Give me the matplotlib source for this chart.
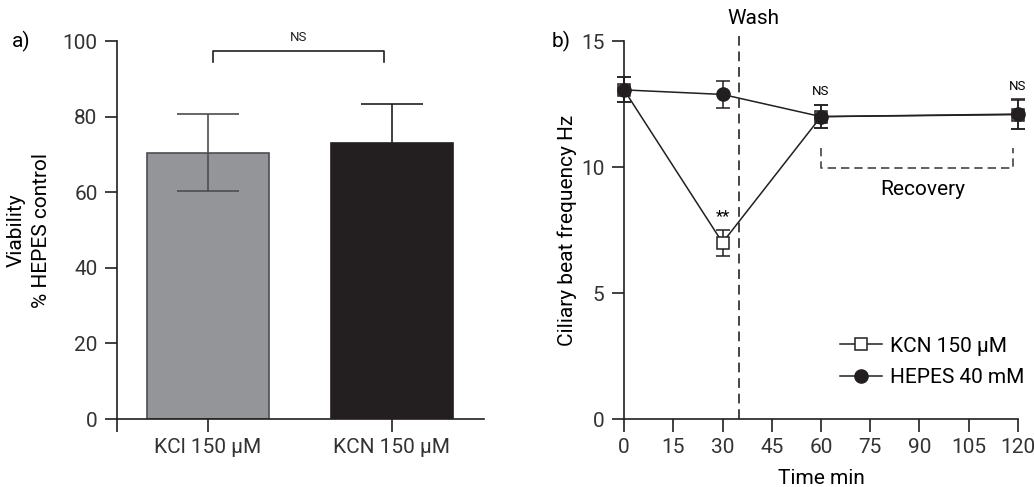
import numpy as np
import matplotlib.pyplot as plt
from matplotlib.lines import Line2D

# panel a data
bar_labels = ["KCl 150 µM", "KCN 150 µM"]
viability = [70.5, 73.1]
viability_err = [10.1, 10.3]

# panel b data
time_min = [0, 30, 60, 120]
kcn_cbf = [13.06, 7.0, 12.0, 12.08]
kcn_err = [0.5, 0.52, 0.47, 0.58]
hepes_cbf = [13.06, 12.88, 12.0, 12.1]
hepes_err = [0.5, 0.53, 0.47, 0.59]
wash_time = 35

dark = "#231f20"
plt.rcParams['font.family'] = ['Roboto', 'DejaVu Sans']
plt.rcParams['font.size'] = 15

fig = plt.figure(figsize=(10.34, 4.87), dpi=100)
ax1 = fig.add_axes([0.1132, 0.1396, 0.3548, 0.7762])
ax2 = fig.add_axes([0.6035, 0.1396, 0.381, 0.7762])

# ---- panel a ----
x = np.arange(len(bar_labels))
ax1.bar(x, viability, width=0.663, color=["#939598", dark],
        edgecolor=["#4d4d4f", dark], linewidth=1.2, zorder=2)
for xi, v, e, c in zip(x, viability, viability_err, ["#4d4d4f", dark]):
    ax1.errorbar(xi, v, yerr=e, fmt="none", ecolor=c,
                 elinewidth=1.2, capsize=22, capthick=1.2, zorder=3)
ax1.set_xlim(-0.495, 1.5)
ax1.set_ylim(0, 100)
ax1.set_xticks([-0.495, 0, 1])
ax1.set_xticklabels(["", bar_labels[0], bar_labels[1]])
ax1.set_yticks([0, 20, 40, 60, 80, 100])
ax1.set_ylabel("Viability\n% HEPES control", labelpad=8, linespacing=1.45)
# NS bracket
ax1.plot([0.025, 0.025, 0.955, 0.955], [94.4, 97.4, 97.4, 94.4],
         color=dark, lw=1.2, clip_on=False)
ax1.text(0.49, 99.3, "NS", ha="center", va="bottom", fontsize=9.5, color=dark)
ax1.text(-0.26, 1.0, "a)", transform=ax1.transAxes, ha="center", va="center",
         fontsize=15)

# ---- panel b ----
ax2.axvline(wash_time, ymin=0, ymax=1.015, color="#444444", lw=1.4,
            ls=(0, (5, 3)), clip_on=False, zorder=1)
ax2.text(wash_time + 4.5, 15.5, "Wash", ha="center", va="bottom", fontsize=15)
ax2.errorbar(time_min, kcn_cbf, yerr=kcn_err, color=dark, lw=1.1,
             marker="s", ms=9, mfc="white", mec=dark, mew=1.1,
             capsize=5, capthick=1.1, elinewidth=1.1,
             clip_on=False, zorder=3)
ax2.errorbar(time_min, hepes_cbf, yerr=hepes_err, color=dark, lw=1.1,
             marker="o", ms=9.5, mfc=dark, mec=dark,
             capsize=5, capthick=1.1, elinewidth=1.1,
             clip_on=False, zorder=4)
ax2.set_xlim(0, 120)
ax2.set_ylim(0, 15)
ax2.set_xticks(np.arange(0, 121, 15))
ax2.set_yticks([0, 5, 10, 15])
ax2.set_xlabel("Time min", labelpad=8)
ax2.set_ylabel("Ciliary beat frequency Hz", labelpad=3)
# recovery bracket
ax2.plot([60, 60, 118.5, 118.5], [10.75, 9.96, 9.96, 10.75],
         color="#444444", lw=1.2, ls=(0, (5, 3)))
ax2.text(91, 9.1, "Recovery", ha="center", va="center", fontsize=15)
ax2.text(60, 12.75, "NS", ha="center", va="bottom", fontsize=9.5)
ax2.text(120, 12.95, "NS", ha="center", va="bottom", fontsize=9.5)
ax2.text(30, 7.75, "**", ha="center", va="bottom", fontsize=12)
ax2.text(-0.16, 1.0, "b)", transform=ax2.transAxes, ha="center", va="center",
         fontsize=15)
handles = [Line2D([], [], color=dark, lw=1.1, marker="s", ms=9, mfc="white",
                  mec=dark, mew=1.1),
           Line2D([], [], color=dark, lw=1.1, marker="o", ms=9.5, mfc=dark,
                  mec=dark)]
ax2.legend(handles, ["KCN 150 µM", "HEPES 40 mM"], loc="lower right",
           bbox_to_anchor=(1.065, 0.035), frameon=False, handlelength=2.0,
           handletextpad=0.4, labelspacing=0.6, fontsize=15)

for ax in (ax1, ax2):
    ax.spines["top"].set_visible(False)
    ax.spines["right"].set_visible(False)
    for s in ("left", "bottom"):
        ax.spines[s].set_color(dark)
        ax.spines[s].set_linewidth(1.2)
    ax.tick_params(length=9, width=1.2, color=dark, labelcolor="#333333", pad=5)

fig.savefig("out.png", dpi=100)
